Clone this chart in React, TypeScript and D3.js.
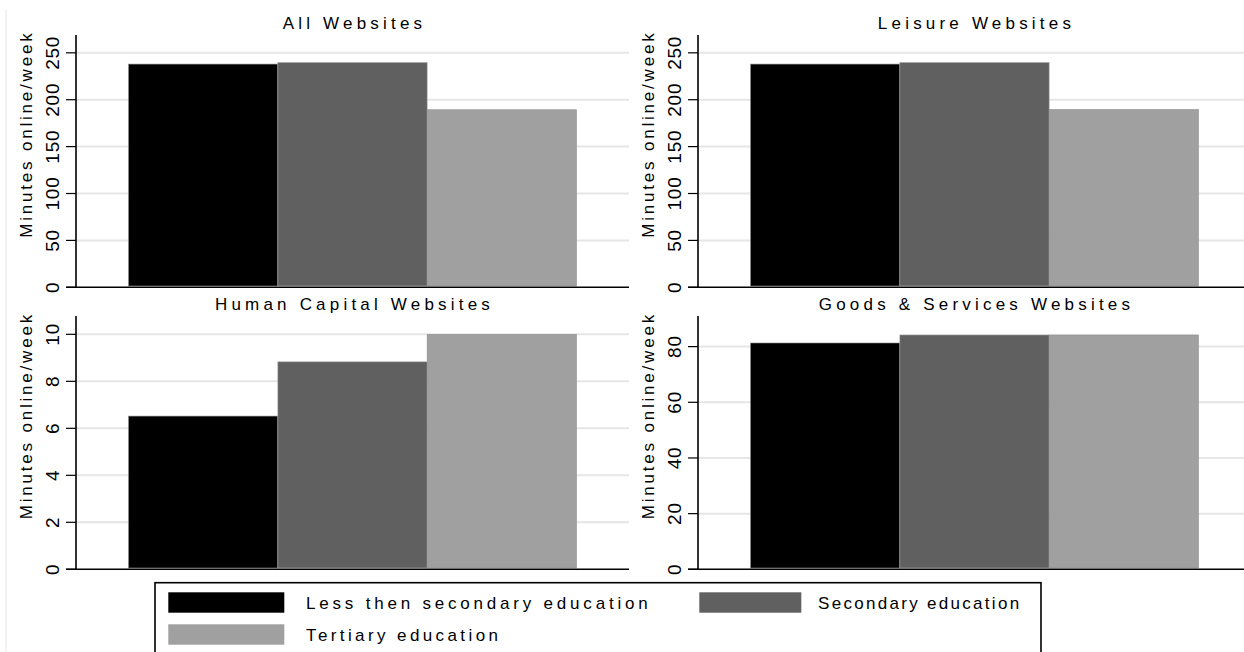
import React from "react";
import * as d3 from "d3";

const panelTitles = ["All Websites", "Leisure Websites", "Human Capital Websites", "Goods & Services Websites"];
const educationLevels = ["Less then secondary education", "Secondary education", "Tertiary education"];
const lessSecondary = [238, 238, 6.52, 81.3];
const secondary = [239.7, 239.7, 8.83, 84.2];
const tertiary = [189.3, 189.6, 10.0, 84.2];
const yTicksTop = [0, 50, 100, 150, 200, 250];
const yTicksHuman = [0, 2, 4, 6, 8, 10];
const yTicksGoods = [0, 20, 40, 60, 80];
const yAxisTitle = "Minutes online/week";

const panelTicks = [yTicksTop, yTicksTop, yTicksHuman, yTicksGoods];
const panelYMax = [269, 269, 10.78, 91];
const colors = ["#000000", "#606060", "#a0a0a0"];
const FONT = "'Liberation Sans', Arial, Helvetica, sans-serif";

const W = 1244;
const H = 652;

// panel layout: left x of y-axis, top & bottom of plot area
const panelBoxes = [
  { x0: 76, x1: 629, top: 35, bottom: 287.3 },
  { x0: 698, x1: 1251, top: 35, bottom: 287.3 },
  { x0: 76, x1: 629, top: 316, bottom: 569.3 },
  { x0: 698, x1: 1251, top: 316, bottom: 569.3 },
];

function Panel({ idx }: { idx: number }) {
  const b = panelBoxes[idx];
  const y = d3.scaleLinear().domain([0, panelYMax[idx]]).range([b.bottom, b.top]);
  const x = d3
    .scaleBand<string>()
    .domain(educationLevels)
    .range([b.x0, b.x1])
    .paddingInner(0)
    .paddingOuter(0.352);
  const vals = [lessSecondary[idx], secondary[idx], tertiary[idx]];
  const ticks = panelTicks[idx];
  const cx = (b.x0 + b.x1) / 2;
  const midY = (b.top + b.bottom) / 2 - 27;
  return (
    <g>
      {ticks
        .filter((t) => t > 0)
        .map((t) => (
          <line key={"g" + t} x1={b.x0} x2={b.x1} y1={y(t)} y2={y(t)} stroke="#e6e6e6" strokeWidth={2} />
        ))}
      {vals.map((v, i) => (
        <rect
          key={i}
          x={x(educationLevels[i])}
          width={x.bandwidth()}
          y={y(v)}
          height={y(0) - 1.3 - y(v)}
          fill={colors[i]}
          stroke={i === 0 ? "#8a8a8a" : i === 1 ? "#a8a8a8" : "#8f8f8f"}
          strokeWidth={0.6}
        />
      ))}
      <line x1={b.x0} x2={b.x0} y1={b.top} y2={b.bottom} stroke="#000" strokeWidth={1.6} />
      <line x1={b.x0 - 10} x2={b.x1} y1={b.bottom} y2={b.bottom} stroke="#000" strokeWidth={1.6} />
      {ticks.map((t) => (
        <g key={"t" + t}>
          <line x1={b.x0 - 10} x2={b.x0} y1={y(t)} y2={y(t)} stroke="#000" strokeWidth={1.2} />
          <text
            transform={`translate(${b.x0 - 24},${y(t)}) rotate(-90)`}
            textAnchor="middle"
            dominantBaseline="central"
            fontFamily={FONT}
            fontSize={19}
            letterSpacing={0.8}
            fill="#000"
          >
            {t}
          </text>
        </g>
      ))}
      <text
        transform={`translate(${b.x0 - 50},${midY}) rotate(-90)`}
        textAnchor="middle"
        dominantBaseline="central"
        fontFamily={FONT}
        fontSize={17}
        letterSpacing={2.8}
        fill="#000"
      >
        {yAxisTitle}
      </text>
      <text
        x={cx + 2}
        y={b.top - 6}
        textAnchor="middle"
        fontFamily={FONT}
        fontSize={17}
        letterSpacing={4.2}
        fill="#000"
      >
        {panelTitles[idx]}
      </text>
    </g>
  );
}

function Legend() {
  const box = { x: 155, y: 582.7, w: 886, h: 90 };
  const keyW = 116;
  const keyH = 20.4;
  const items = [
    { label: educationLevels[0], kx: 168.3, ky: 592.3, tx: 306, kw: keyW, ls: 3.8 },
    { label: educationLevels[1], kx: 699.3, ky: 592.3, tx: 818, kw: 102, ls: 2.3 },
    { label: educationLevels[2], kx: 168.3, ky: 624.3, tx: 306, kw: keyW, ls: 3.4 },
  ];
  return (
    <g>
      <rect x={box.x} y={box.y} width={box.w} height={box.h} fill="#fff" stroke="#000" strokeWidth={1.6} />
      {items.map((it, i) => (
        <g key={i}>
          <rect x={it.kx} y={it.ky} width={it.kw} height={keyH} fill={colors[i]} />
          <text
            x={it.tx}
            y={it.ky + keyH / 2 + 1}
            dominantBaseline="central"
            fontFamily={FONT}
            fontSize={17}
            letterSpacing={it.ls}
            fill="#000"
          >
            {it.label}
          </text>
        </g>
      ))}
    </g>
  );
}

export default function App() {
  return (
    <svg
      width={W}
      height={H}
      viewBox={`0 0 ${W} ${H}`}
      style={{ position: "absolute", left: 0, top: 0, display: "block", background: "#fff" }}
    >
      <rect x={0} y={0} width={W} height={H} fill="#fff" />
      <line x1={6} x2={6} y1={10} y2={H} stroke="#efefef" strokeWidth={1.5} />
      {[0, 1, 2, 3].map((i) => (
        <Panel key={i} idx={i} />
      ))}
      <Legend />
    </svg>
  );
}
